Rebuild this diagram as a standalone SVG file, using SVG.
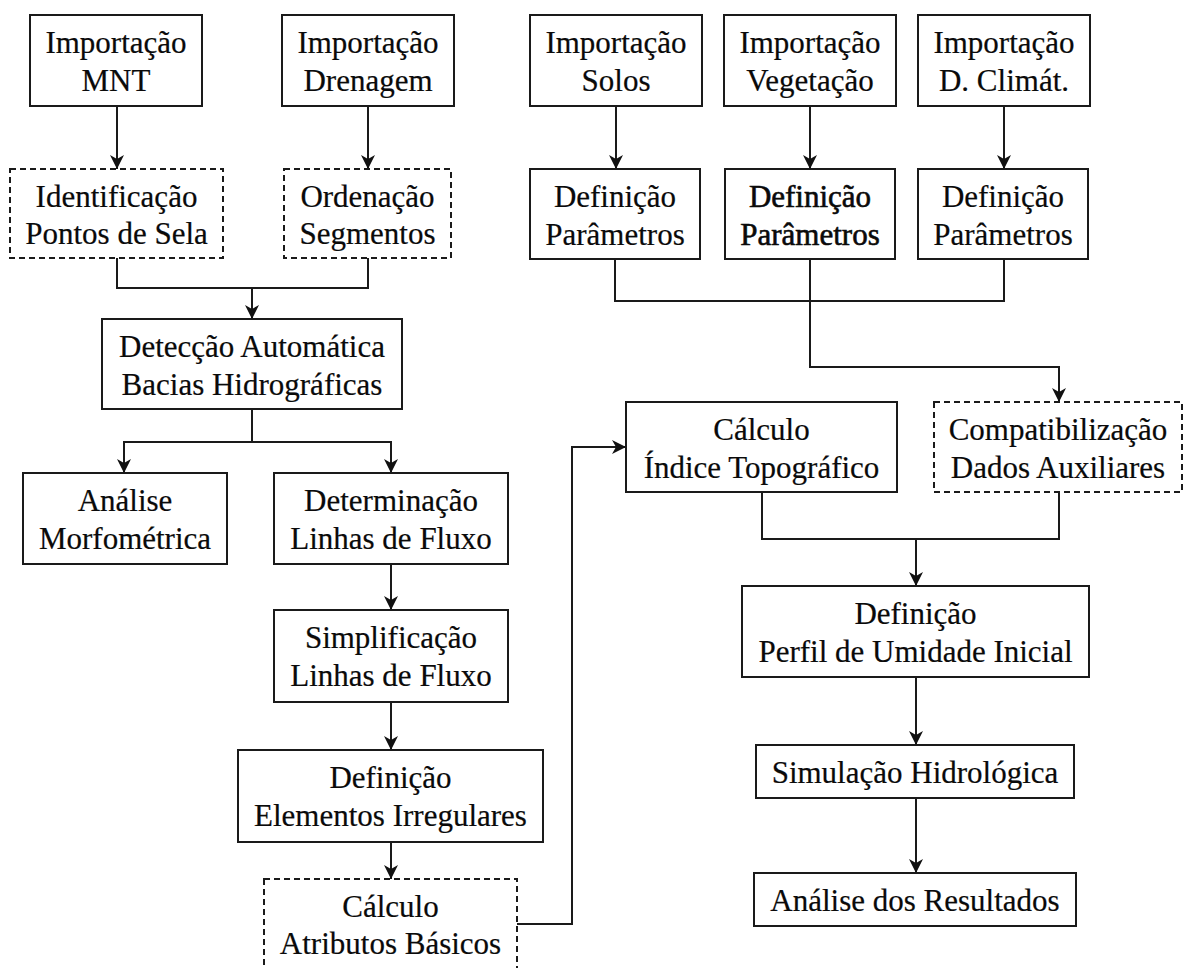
<svg xmlns="http://www.w3.org/2000/svg" width="1185" height="968" viewBox="0 0 1185 968">
  <defs>
    <marker id="arrow" viewBox="0 0 14 14" refX="14" refY="7" markerWidth="14" markerHeight="14" markerUnits="userSpaceOnUse" orient="auto">
      <path d="M0,0 L14,7 L0,14 L4,7 z" fill="#111"/>
    </marker>
    <style>
      .box { fill: #fff; stroke: #1a1a1a; stroke-width: 2; }
      .dash { stroke-dasharray: 6 4; }
      .lbl { font-family: "Liberation Serif", "Times New Roman", serif; font-size: 31px; fill: #0a0a0a; stroke: #0a0a0a; stroke-width: 0.2; text-anchor: middle; }
      .heavy { stroke-width: 0.6; }
      .conn { fill: none; stroke: #1a1a1a; stroke-width: 2; }
    </style>
  </defs>
  <rect width="1185" height="968" fill="#fff"/>

  <!-- connectors -->
  <g id="connectors">
    <path class="conn" d="M117,106 V169" marker-end="url(#arrow)"/>
    <path class="conn" d="M368,106 V169" marker-end="url(#arrow)"/>
    <path class="conn" d="M117,258 V288 H368 V258"/>
    <path class="conn" d="M252,288 V319" marker-end="url(#arrow)"/>
    <path class="conn" d="M252,409 V442 H124 V473" marker-end="url(#arrow)"/>
    <path class="conn" d="M252,442 H391 V473" marker-end="url(#arrow)"/>
    <path class="conn" d="M391,564 V610" marker-end="url(#arrow)"/>
    <path class="conn" d="M391,702 V750" marker-end="url(#arrow)"/>
    <path class="conn" d="M391,842 V879" marker-end="url(#arrow)"/>
    <path class="conn" d="M517,924 H572 V447 H626" marker-end="url(#arrow)"/>
    <path class="conn" d="M616,106 V169" marker-end="url(#arrow)"/>
    <path class="conn" d="M810,106 V169" marker-end="url(#arrow)"/>
    <path class="conn" d="M1004,106 V169" marker-end="url(#arrow)"/>
    <path class="conn" d="M615,259 V301 H1004 V259"/>
    <path class="conn" d="M810,259 V367 H1059 V402" marker-end="url(#arrow)"/>
    <path class="conn" d="M762,492 V539 H1059 V492"/>
    <path class="conn" d="M916,539 V586" marker-end="url(#arrow)"/>
    <path class="conn" d="M916,677 V745" marker-end="url(#arrow)"/>
    <path class="conn" d="M916,798 V873" marker-end="url(#arrow)"/>
  </g>

  <!-- left branch -->
  <g id="imp-mnt">
    <rect class="box" x="30" y="15" width="172" height="91"/>
    <text class="lbl" x="116" y="53">Importação</text>
    <text class="lbl" x="116" y="91">MNT</text>
  </g>
  <g id="imp-drenagem">
    <rect class="box" x="282" y="15" width="172" height="91"/>
    <text class="lbl" x="368" y="53">Importação</text>
    <text class="lbl" x="368" y="91">Drenagem</text>
  </g>
  <g id="pontos-sela">
    <rect class="box dash" x="10" y="169" width="213" height="89"/>
    <text class="lbl" x="116.5" y="207">Identificação</text>
    <text class="lbl" x="116.5" y="244">Pontos de Sela</text>
  </g>
  <g id="ordenacao">
    <rect class="box dash" x="284" y="169" width="167" height="89"/>
    <text class="lbl" x="367.5" y="207">Ordenação</text>
    <text class="lbl" x="367.5" y="244">Segmentos</text>
  </g>
  <g id="deteccao">
    <rect class="box" x="102" y="319" width="300" height="90"/>
    <text class="lbl" x="252" y="357">Detecção Automática</text>
    <text class="lbl" x="252" y="395">Bacias Hidrográficas</text>
  </g>
  <g id="morfometrica">
    <rect class="box" x="23" y="473" width="204" height="91"/>
    <text class="lbl" x="125" y="511">Análise</text>
    <text class="lbl" x="125" y="549">Morfométrica</text>
  </g>
  <g id="determinacao">
    <rect class="box" x="274" y="473" width="234" height="91"/>
    <text class="lbl" x="391" y="511">Determinação</text>
    <text class="lbl" x="391" y="549">Linhas de Fluxo</text>
  </g>
  <g id="simplificacao">
    <rect class="box" x="274" y="610" width="234" height="92"/>
    <text class="lbl" x="391" y="648">Simplificação</text>
    <text class="lbl" x="391" y="686">Linhas de Fluxo</text>
  </g>
  <g id="elementos">
    <rect class="box" x="238" y="750" width="305" height="92"/>
    <text class="lbl" x="390.5" y="788">Definição</text>
    <text class="lbl" x="390.5" y="826">Elementos Irregulares</text>
  </g>
  <g id="atributos">
    <rect class="box dash" x="264" y="879" width="253" height="95"/>
    <text class="lbl" x="390.5" y="917">Cálculo</text>
    <text class="lbl" x="390.5" y="954">Atributos Básicos</text>
  </g>

  <!-- right branch -->
  <g id="imp-solos">
    <rect class="box" x="530" y="15" width="172" height="91"/>
    <text class="lbl" x="616" y="53">Importação</text>
    <text class="lbl" x="616" y="91">Solos</text>
  </g>
  <g id="imp-vegetacao">
    <rect class="box" x="724" y="15" width="172" height="91"/>
    <text class="lbl" x="810" y="53">Importação</text>
    <text class="lbl" x="810" y="91">Vegetação</text>
  </g>
  <g id="imp-clima">
    <rect class="box" x="918" y="15" width="172" height="91"/>
    <text class="lbl" x="1004" y="53">Importação</text>
    <text class="lbl" x="1004" y="91">D. Climát.</text>
  </g>
  <g id="par-solos">
    <rect class="box" x="530" y="169" width="170" height="90"/>
    <text class="lbl" x="615" y="207">Definição</text>
    <text class="lbl" x="615" y="245">Parâmetros</text>
  </g>
  <g id="par-vegetacao">
    <rect class="box" x="725" y="169" width="170" height="90"/>
    <text class="lbl heavy" x="810" y="207">Definição</text>
    <text class="lbl heavy" x="810" y="245">Parâmetros</text>
  </g>
  <g id="par-clima">
    <rect class="box" x="918" y="169" width="170" height="90"/>
    <text class="lbl" x="1003" y="207">Definição</text>
    <text class="lbl" x="1003" y="245">Parâmetros</text>
  </g>
  <g id="indice-topo">
    <rect class="box" x="626" y="402" width="271" height="90"/>
    <text class="lbl" x="761.5" y="440">Cálculo</text>
    <text class="lbl" x="761.5" y="478">Índice Topográfico</text>
  </g>
  <g id="compatibilizacao">
    <rect class="box dash" x="934" y="402" width="248" height="90"/>
    <text class="lbl" x="1058" y="440">Compatibilização</text>
    <text class="lbl" x="1058" y="478">Dados Auxiliares</text>
  </g>
  <g id="perfil-umidade">
    <rect class="box" x="742" y="586" width="347" height="91"/>
    <text class="lbl" x="915.5" y="624">Definição</text>
    <text class="lbl" x="915.5" y="662">Perfil de Umidade Inicial</text>
  </g>
  <g id="simulacao">
    <rect class="box" x="756" y="745" width="318" height="53"/>
    <text class="lbl" x="915" y="783">Simulação Hidrológica</text>
  </g>
  <g id="resultados">
    <rect class="box" x="754" y="873" width="322" height="53"/>
    <text class="lbl" x="915" y="911">Análise dos Resultados</text>
  </g>
</svg>
